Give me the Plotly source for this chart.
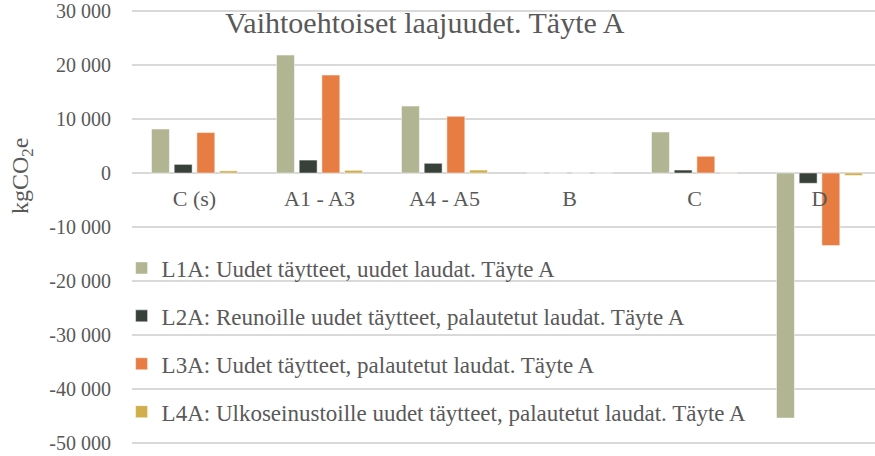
import plotly.graph_objects as go

categories = ["C (s)", "A1 - A3", "A4 - A5", "B", "C", "D"]
series_names = [
    "L1A: Uudet täytteet, uudet laudat. Täyte A",
    "L2A: Reunoille uudet täytteet, palautetut laudat. Täyte A",
    "L3A: Uudet täytteet, palautetut laudat. Täyte A",
    "L4A: Ulkoseinustoille uudet täytteet, palautetut laudat. Täyte A",
]
L1A = [8150, 21850, 12400, 0, 7600, -45400]
L2A = [1600, 2400, 1800, 0, 550, -1900]
L3A = [7500, 18150, 10500, 0, 3100, -13450]
L4A = [400, 500, 550, 0, 50, -450]
colors = ["#B2B592", "#37413A", "#E87D43", "#CFAE4B"]

y_tickvals = [-50000, -40000, -30000, -20000, -10000, 0, 10000, 20000, 30000]
y_ticktext = ["-50 000", "-40 000", "-30 000", "-20 000", "-10 000", "0", "10 000", "20 000", "30 000"]

title_text = "Vaihtoehtoiset laajuudet. Täyte A"
y_title = "kgCO<sub>2</sub>e"

FONT = "Liberation Serif"
GRAY = "#595959"
GRID = "#D9D9D9"

Y_MIN, Y_MAX = -51500, 31500
PB, PH = 451, 448  # plot bottom (px from top) and plot height

fig = go.Figure()
for i, (name, vals) in enumerate(zip(series_names, [L1A, L2A, L3A, L4A])):
    fig.add_trace(go.Bar(
        x=categories, y=vals, name=name, legendgroup=f"g{i}",
        marker=dict(color=colors[i], line=dict(color="rgba(255,255,255,0.6)", width=0.8)),
    ))

fig.update_layout(
    width=875, height=456,
    margin=dict(l=132, r=0, t=3, b=5),
    paper_bgcolor="white", plot_bgcolor="white",
    barmode="group", bargap=0.274, bargroupgap=0.21,
    font=dict(family=FONT, color=GRAY),
    showlegend=True,
    legend=dict(
        x=-0.014, y=(PB - 246.5) / PH, xanchor="left", yanchor="top",
        bgcolor="rgba(0,0,0,0)", font=dict(size=23, family=FONT, color=GRAY),
        tracegroupgap=15, itemclick=False,
    ),
    xaxis=dict(
        range=[-0.5, 5.444], anchor="free", position=-Y_MIN / (Y_MAX - Y_MIN),
        showgrid=False, showline=False, zeroline=False, ticks="",
        tickfont=dict(size=22, family=FONT, color=GRAY),
        ticklabelstandoff=10,
    ),
    yaxis=dict(
        range=[Y_MIN, Y_MAX], tickmode="array", tickvals=y_tickvals, ticktext=y_ticktext,
        showgrid=True, gridcolor=GRID, gridwidth=1.5,
        zeroline=True, zerolinecolor=GRID, zerolinewidth=1.5,
        showline=False, ticks="",
        tickfont=dict(size=20, family=FONT, color=GRAY),
        ticklabelstandoff=20, ticklabeloverflow="allow",
    ),
    shapes=[
        dict(type="line", xref="paper", yref="y", x0=0, x1=1,
             y0=max(y_tickvals), y1=max(y_tickvals), layer="below",
             line=dict(color=GRID, width=1.5)),
    ],
    annotations=[
        dict(text=title_text, xref="paper", yref="paper", x=(425 - 132) / 743, y=(PB - 22) / PH,
             xanchor="center", yanchor="middle", showarrow=False,
             font=dict(size=30, family=FONT, color=GRAY)),
        dict(text=y_title, xref="paper", yref="paper", x=(22 - 132) / 743, y=(PB - 176) / PH,
             xanchor="center", yanchor="middle", showarrow=False, textangle=-90,
             font=dict(size=24, family=FONT, color=GRAY)),
    ],
)

fig.write_html("out.html", config={"displayModeBar": False},
               post_script="document.body.style.margin='0';")
